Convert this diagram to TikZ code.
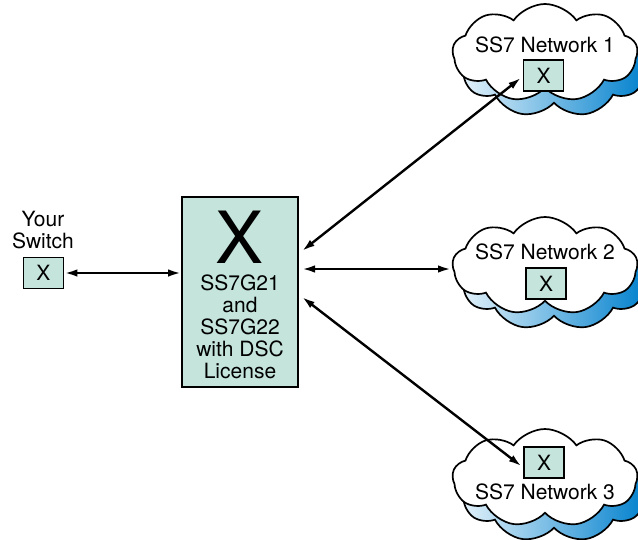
\documentclass[tikz,border=0pt]{standalone}
\usepackage{fontspec}
\setmainfont{TeX Gyre Heros}
\usetikzlibrary{shapes.symbols,arrows.meta}
\definecolor{boxfill}{RGB}{196,228,220}
\definecolor{cloudlight}{RGB}{228,242,250}
\definecolor{clouddark}{RGB}{0,128,205}
\tikzset{xbox/.style={draw, fill=boxfill, line width=1.8pt, minimum width=40pt, minimum height=31pt, inner sep=0pt, font=\fontsize{21}{24}\selectfont},
  net/.style={cloud, cloud puffs=9, cloud puff arc=110, aspect=1.9, minimum width=185pt, minimum height=98pt, draw, line width=1.7pt, fill=white},
  netshadow/.style={net, left color=cloudlight, right color=clouddark},
  lbl/.style={font=\fontsize{21}{22}\selectfont, align=center, inner sep=0pt},
  link/.style={{Latex[length=13pt,width=7.5pt]}-{Latex[length=13pt,width=7.5pt]}, line width=2.4pt}}
\begin{document}
\begin{tikzpicture}[x=1pt, y=-1pt]
  \useasboundingbox (0,0) rectangle (638,539);
  \clip (0,0) rectangle (638,539);

  \node [netshadow] (shadow1) at (554,68) {};
  \node [net] (cloud1) at (545,53) {};
  \node [lbl] (lab1) at (545,45) {SS7 Network 1};
  \node [xbox] (x1) at (543.5,75.5) {X};

  \node [netshadow] (shadow2) at (554,281) {};
  \node [net] (cloud2) at (545,266) {};
  \node [lbl] (lab2) at (545,252) {SS7 Network 2};
  \node [xbox] (x2) at (546,283.5) {X};

  \node [netshadow] (shadow3) at (554,493) {};
  \node [net] (cloud3) at (545,478) {};
  \node [xbox] (x3) at (544,462.5) {X};
  \node [lbl] (lab3) at (545,492) {SS7 Network 3};

  \node [lbl] (yours) at (43,230) {Your\\Switch};
  \node [xbox] (sw) at (43.5,273) {X};

  \node [draw, fill=boxfill, line width=1.8pt, minimum width=116pt, minimum height=190pt] (dsc) at (240,292) {};
  \node [inner sep=0pt, font=\fontsize{72}{72}\selectfont] (bigx) at (240,237) {X};
  \node [lbl] (dsctext) at (240,327) {SS7G21\\and\\SS7G22\\with DSC\\License};

  \coordinate (d1) at (302,251);
  \coordinate (d2) at (302,269);
  \coordinate (d3) at (302,297);
  \coordinate (in2) at (451,269);

  \draw [link] (sw.east) -- (dsc.west |- sw.east);
  \draw [link, shorten >=2pt] (d1) -- ([shift={(0,1)}]x1.west);
  \draw [link] (d2) -- (in2);
  \draw [link, shorten >=2pt] (d3) -- ([shift={(0,5)}]x3.west);
\end{tikzpicture}
\end{document}
